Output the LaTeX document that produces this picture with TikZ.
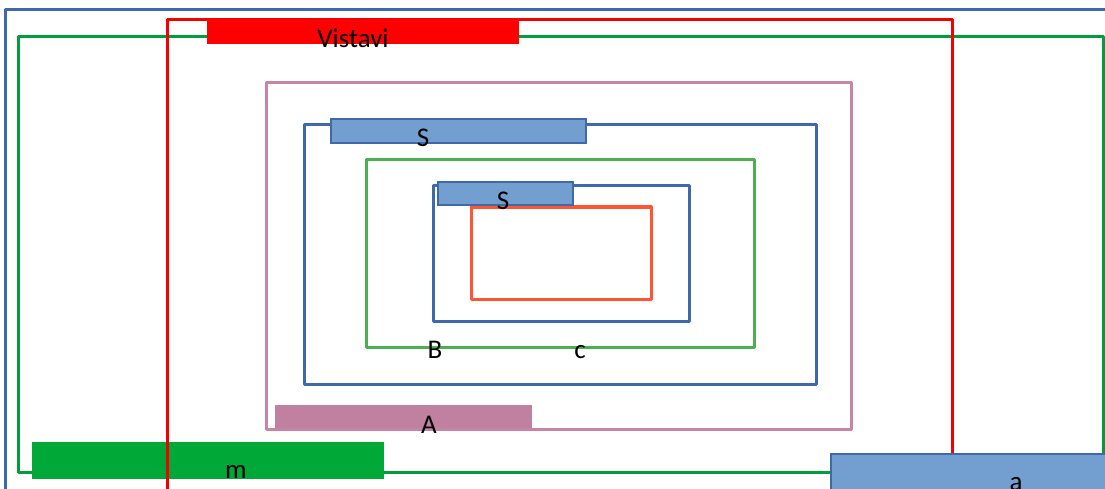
\documentclass[tikz,border=0pt]{standalone}
\usepackage{fontspec}
\setmainfont{Carlito}
\definecolor{frameblue}{RGB}{62,106,170}
\definecolor{barblue}{RGB}{114,159,207}
\definecolor{bigred}{RGB}{245,0,0}
\definecolor{biggreen}{RGB}{0,158,58}
\definecolor{bargreen}{RGB}{0,168,56}
\definecolor{ltgreen}{RGB}{76,175,80}
\definecolor{pinkline}{RGB}{200,132,166}
\definecolor{pinkbar}{RGB}{192,128,160}
\definecolor{orangeline}{RGB}{255,85,51}
\tikzset{
  frame/.style={line width=3pt, line join=round},
  bluebar/.style={fill=barblue, draw=frameblue, line width=1.5pt},
  lbl/.style={inner sep=0pt, anchor=base, font=\fontsize{27}{31}\selectfont}
}
\begin{document}
\begin{tikzpicture}[x=1pt,y=-1pt]
\useasboundingbox (0,0) rectangle (1105,489);
\clip (0,0) rectangle (1105,489);
% outer blue frame
\draw[frame, draw=frameblue] (5,10) rectangle (1120,500);
% big green frame
\draw[frame, draw=biggreen] (18,37) rectangle (1103,472);
% green bar m
\fill[bargreen] (32,442) rectangle (384,479);
% red frame
\draw[frame, draw=bigred] (167,20) rectangle (952,500);
% red bar
\fill[red] (207,20) rectangle (519,44);
% pink frame and bar
\draw[frame, draw=pinkline] (266,83) rectangle (851,429);
\fill[pinkbar] (275,405) rectangle (532,428);
% blue frame 2 and bar
\draw[frame, draw=frameblue] (304,125) rectangle (816,384);
\draw[bluebar] (331,119) rectangle (586,143);
% light green frame
\draw[frame, draw=ltgreen] (366,160) rectangle (754,347);
% blue frame 3 and bar
\draw[frame, draw=frameblue] (433,186) rectangle (689,321);
\draw[frame, draw=orangeline] (471,207) rectangle (651,299);
\draw[bluebar] (438,182) rectangle (573,205);
% blue bar a
\draw[bluebar] (831,454) rectangle (1115,500);
% labels
\node[lbl] (vistavi) at (353,48) {Vistavi};
\node[lbl] (s1) at (423,147) {S};
\node[lbl] (s2) at (503,210) {S};
\node[lbl] (b) at (435,358) {B};
\node[lbl] (c) at (580,358) {c};
\node[lbl] (a1) at (429,433) {A};
\node[lbl] (m) at (236,478) {m};
\node[lbl] (a2) at (1016,490) {a};
\end{tikzpicture}
\end{document}
